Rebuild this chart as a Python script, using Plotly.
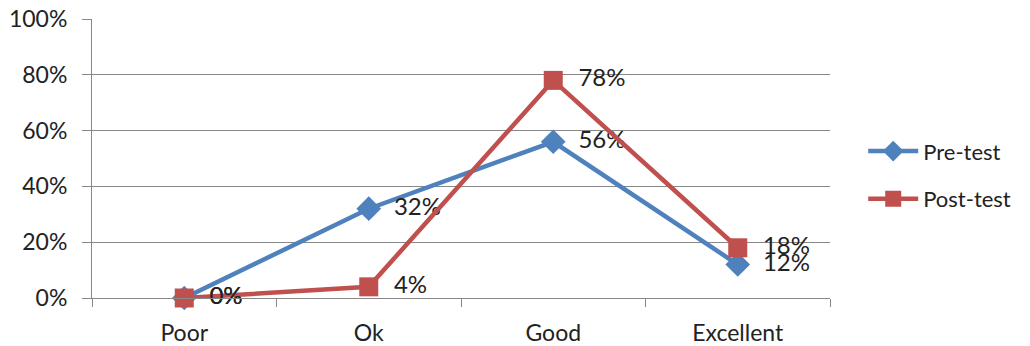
import plotly.graph_objects as go

categories = ["Poor", "Ok", "Good", "Excellent"]
pre_test = [0.00, 0.32, 0.56, 0.12]
post_test = [0.00, 0.04, 0.78, 0.18]
y_ticks = [0, 0.2, 0.4, 0.6, 0.8, 1.0]
y_tick_labels = ["0%", "20%", "40%", "60%", "80%", "100%"]

BLUE = "#4F81BD"
RED = "#C0504D"
GRID = "#888888"
FONT = "Lato, Open Sans, sans-serif"
TXT = "#222222"

def pct(vals):
    return ["  " + f"{round(v*100)}%" for v in vals]

fig = go.Figure()
fig.add_trace(go.Scatter(
    x=categories, y=pre_test, name="Pre-test", mode="lines+markers+text",
    line=dict(color=BLUE, width=4.5), marker=dict(symbol="diamond", size=19, color=BLUE),
    text=pct(pre_test), textposition="middle right",
    textfont=dict(size=24, color=TXT, family=FONT),
    legendgroup="a", cliponaxis=False,
))
fig.add_trace(go.Scatter(
    x=categories, y=post_test, name="Post-test", mode="lines+markers+text",
    line=dict(color=RED, width=4.5), marker=dict(symbol="square", size=19, color=RED),
    text=pct(post_test), textposition="middle right",
    textfont=dict(size=24, color=TXT, family=FONT),
    legendgroup="b", cliponaxis=False,
))

fig.update_layout(
    width=1030, height=346,
    margin=dict(l=92, r=200, t=19, b=48, autoexpand=False),
    paper_bgcolor="white", plot_bgcolor="white",
    font=dict(family=FONT, size=22, color=TXT),
    legend=dict(x=1.045, y=0.44, xanchor="left", yanchor="middle",
                traceorder="grouped", tracegroupgap=16, itemwidth=50,
                font=dict(size=22, family=FONT, color=TXT),
                bgcolor="rgba(0,0,0,0)"),
    showlegend=True,
)
fig.update_xaxes(
    type="category", showline=True, linecolor=GRID, linewidth=1,
    showgrid=False, ticks="outside", tickson="boundaries", ticklen=8,
    tickcolor=GRID, tickfont=dict(size=23, family=FONT, color=TXT),
    ticklabelstandoff=14, automargin=False,
    range=[-0.5, 3.5], fixedrange=True,
)
fig.update_yaxes(
    range=[0, 1], tickvals=y_ticks, ticktext=y_tick_labels,
    showline=True, linecolor=GRID, linewidth=1,
    showgrid=True, gridcolor=GRID, gridwidth=1,
    ticks="outside", ticklen=9, tickcolor=GRID,
    tickfont=dict(size=23, family=FONT, color=TXT),
    ticklabelstandoff=10, automargin=False,
    zeroline=False,
)

fig.write_html("out.html")
